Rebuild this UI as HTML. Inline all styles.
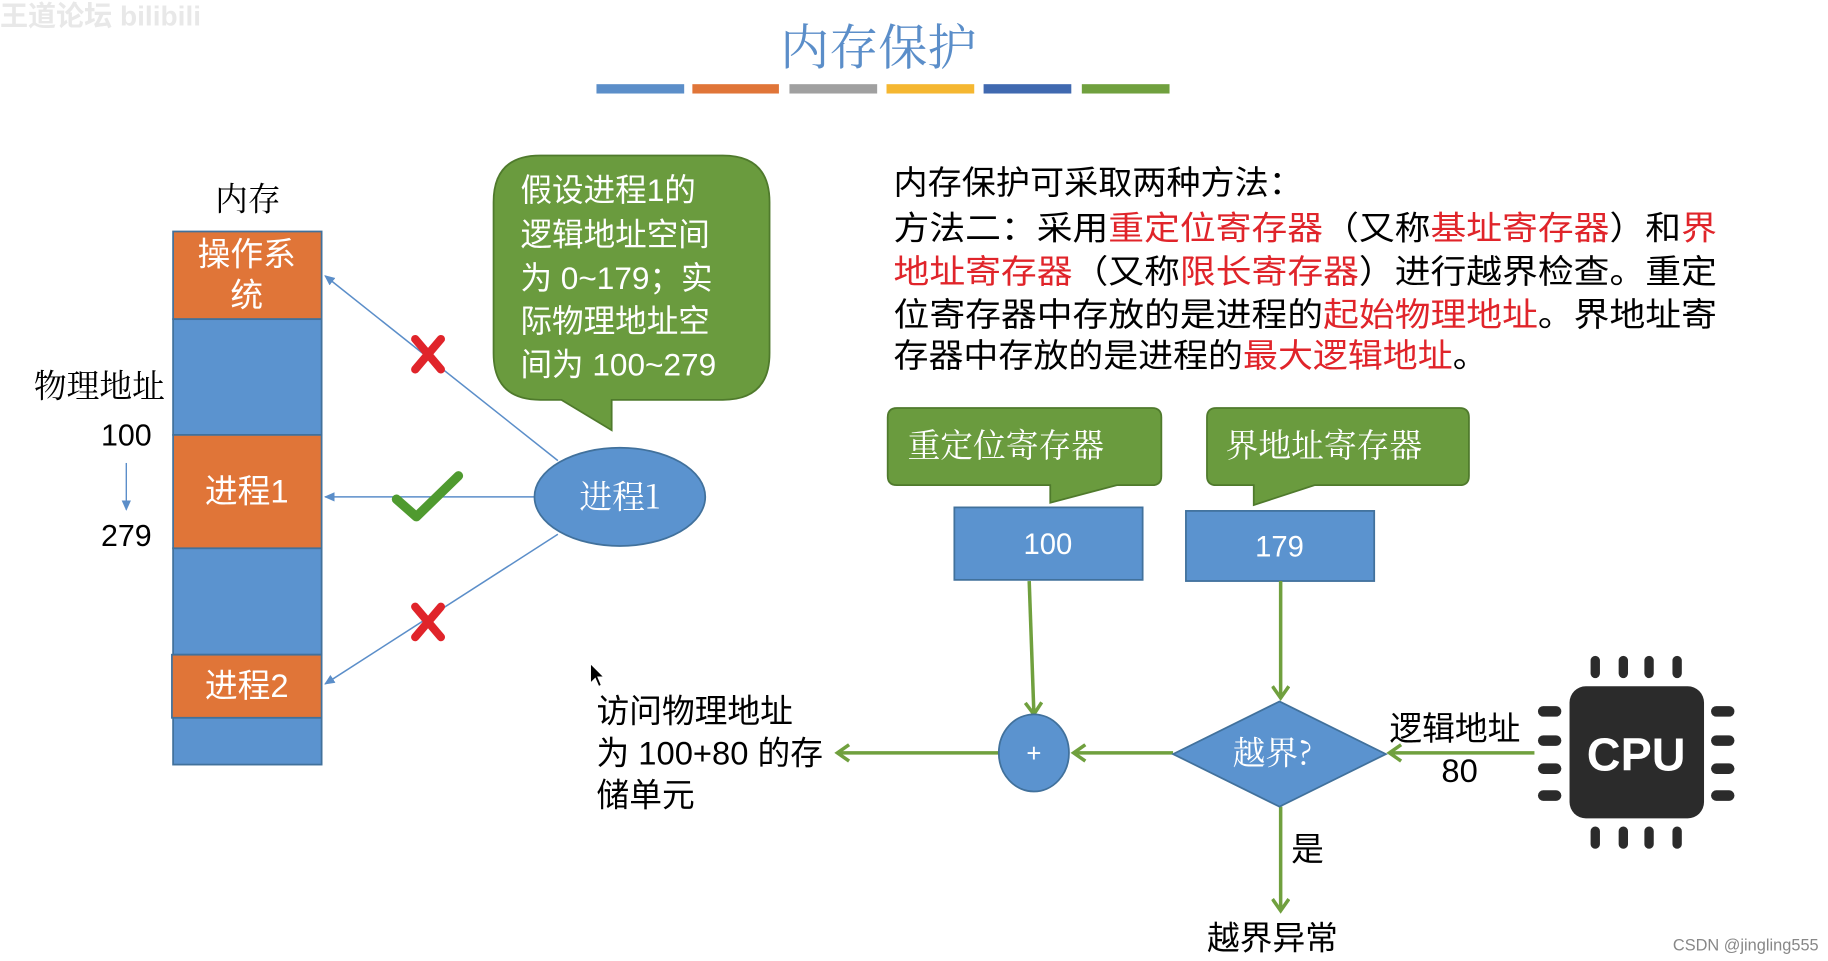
<!DOCTYPE html>
<html><head><meta charset="utf-8"><style>
html,body{margin:0;padding:0;background:#fff;overflow:hidden}
svg{display:block}
text{font-family:"Liberation Sans","Noto Sans CJK SC",sans-serif}
.cj{font-family:"Noto Serif CJK SC","Noto Sans CJK SC",serif}
</style></head><body>
<svg width="1828" height="961" viewBox="0 0 1563 822" preserveAspectRatio="none" xmlns="http://www.w3.org/2000/svg">
<defs>
<marker id="ab" markerWidth="10" markerHeight="10" refX="8" refY="5" orient="auto" markerUnits="userSpaceOnUse"><path d="M0,1 L9,5 L0,9 z" fill="#5b8ec9"/></marker>
<marker id="ag" markerWidth="16" markerHeight="16" refX="10" refY="8" orient="auto" markerUnits="userSpaceOnUse"><path d="M1,1 L11,8 L1,15" fill="none" stroke="#70a03e" stroke-width="3"/></marker>
</defs>
<rect width="1563" height="822" fill="#fff"/>
<text x="0" y="22" font-size="24" fill="#e8e8e8" font-weight="bold">王道论坛 bilibili</text>
<!-- title -->
<text x="751" y="55" font-size="42" fill="#5b8ec9" text-anchor="middle" class="cj">内存保护</text>
<rect x="510" y="72" width="75" height="8" fill="#5b8ec9"/>
<rect x="592" y="72" width="74" height="8" fill="#e07538"/>
<rect x="675" y="72" width="75" height="8" fill="#a0a0a0"/>
<rect x="758" y="72" width="75" height="8" fill="#f5b731"/>
<rect x="841" y="72" width="75" height="8" fill="#4069b0"/>
<rect x="925" y="72" width="75" height="8" fill="#70a03e"/>
<!-- memory -->
<text x="212" y="180" font-size="28" text-anchor="middle" class="cj">内存</text>
<g stroke="#41719c" stroke-width="1.5">
<rect x="148" y="198" width="127" height="75" fill="#e07538"/>
<rect x="148" y="273" width="127" height="99" fill="#5b93cf"/>
<rect x="148" y="372" width="127" height="97" fill="#e07538"/>
<rect x="148" y="469" width="127" height="91" fill="#5b93cf"/>
<rect x="147" y="560" width="128" height="54" fill="#e07538"/>
<rect x="148" y="614" width="127" height="40" fill="#5b93cf"/>
</g>
<g fill="#fff" font-size="28" text-anchor="middle" class="cj">
<text x="211" y="227">操作系</text>
<text x="211" y="262">统</text>
<text x="211" y="430">进程1</text>
<text x="211" y="596">进程2</text>
</g>
<text x="85" y="340" font-size="28" text-anchor="middle" class="cj">物理地址</text>
<text x="108" y="381" font-size="26" text-anchor="middle">100</text>
<line x1="108" y1="396" x2="108" y2="436" stroke="#5b8ec9" stroke-width="1.2" marker-end="url(#ab)"/>
<text x="108" y="467" font-size="26" text-anchor="middle">279</text>
<!-- bubble -->
<path d="M462,133 H618 Q658,133 658,173 V302 Q658,342 618,342 H523 V368 L480,342 H462 Q422,342 422,302 V173 Q422,133 462,133 z" fill="#6a9b3e" stroke="#4f7a2c" stroke-width="1.5"/>
<g fill="#fff" font-size="27" class="cj">
<text x="445" y="172">假设进程1的</text>
<text x="445" y="210">逻辑地址空间</text>
<text x="445" y="247">为 0~179；实</text>
<text x="445" y="284">际物理地址空</text>
<text x="445" y="321">间为 100~279</text>
</g>
<!-- process ellipse and lines -->
<line x1="477" y1="394" x2="278" y2="236" stroke="#5b8ec9" stroke-width="1.3" marker-end="url(#ab)"/>
<line x1="457" y1="425" x2="278" y2="425" stroke="#5b8ec9" stroke-width="1.3" marker-end="url(#ab)"/>
<line x1="477" y1="457" x2="278" y2="585" stroke="#5b8ec9" stroke-width="1.3" marker-end="url(#ab)"/>
<ellipse cx="530" cy="425" rx="73" ry="42" fill="#5b93cf" stroke="#41719c" stroke-width="1.5"/>
<text x="530" y="435" font-size="28" fill="#fff" text-anchor="middle" class="cj">进程1</text>
<g stroke="#e0242a" stroke-width="7" stroke-linecap="round">
<line x1="355" y1="290" x2="377" y2="316"/><line x1="377" y1="290" x2="355" y2="316"/>
<line x1="355" y1="519" x2="377" y2="545"/><line x1="377" y1="519" x2="355" y2="545"/>
</g>
<path d="M339,427 L356,442 L392,407" fill="none" stroke="#4f9a2f" stroke-width="8" stroke-linecap="round" stroke-linejoin="round"/>
<!-- right text -->
<g font-size="28" class="cj">
<text x="764" y="166" textLength="350" lengthAdjust="spacingAndGlyphs">内存保护可采取两种方法：</text>
<text x="764" y="205" textLength="704" lengthAdjust="spacingAndGlyphs">方法二：采用<tspan fill="#e0242a">重定位寄存器</tspan>（又称<tspan fill="#e0242a">基址寄存器</tspan>）和<tspan fill="#e0242a">界</tspan></text>
<text x="764" y="242" textLength="704" lengthAdjust="spacingAndGlyphs"><tspan fill="#e0242a">地址寄存器</tspan>（又称<tspan fill="#e0242a">限长寄存器</tspan>）进行越界检查。重定</text>
<text x="764" y="279" textLength="704" lengthAdjust="spacingAndGlyphs">位寄存器中存放的是进程的<tspan fill="#e0242a">起始物理地址</tspan>。界地址寄</text>
<text x="764" y="314" textLength="508" lengthAdjust="spacingAndGlyphs">存器中存放的是进程的<tspan fill="#e0242a">最大逻辑地址</tspan>。</text>
</g>
<!-- callouts -->
<path d="M767,349 H985 Q993,349 993,357 V407 Q993,415 985,415 H955 L898,430 V415 H767 Q759,415 759,407 V357 Q759,349 767,349 z" fill="#6a9b3e" stroke="#4f7a2c" stroke-width="1.5"/>
<text x="776" y="391" font-size="28" fill="#fff" class="cj">重定位寄存器</text>
<path d="M1040,349 H1248 Q1256,349 1256,357 V407 Q1256,415 1248,415 H1124 L1072,432 V415 H1040 Q1032,415 1032,407 V357 Q1032,349 1040,349 z" fill="#6a9b3e" stroke="#4f7a2c" stroke-width="1.5"/>
<text x="1048" y="391" font-size="28" fill="#fff" class="cj">界地址寄存器</text>
<rect x="816" y="434" width="161" height="62" fill="#5b93cf" stroke="#41719c" stroke-width="1.5"/>
<text x="896" y="474" font-size="25" fill="#fff" text-anchor="middle">100</text>
<rect x="1014" y="437" width="161" height="60" fill="#5b93cf" stroke="#41719c" stroke-width="1.5"/>
<text x="1094" y="476" font-size="25" fill="#fff" text-anchor="middle">179</text>
<!-- arrows -->
<g stroke="#70a03e" stroke-width="3" fill="none" marker-end="url(#ag)">
<line x1="880" y1="497" x2="884" y2="610"/>
<line x1="1095" y1="497" x2="1095" y2="596"/>
<line x1="1312" y1="644" x2="1189" y2="644"/>
<line x1="1003" y1="644" x2="919" y2="644"/>
<line x1="854" y1="644" x2="717" y2="644"/>
<line x1="1095" y1="690" x2="1095" y2="778"/>
</g>
<ellipse cx="884" cy="644" rx="30" ry="33" fill="#5b93cf" stroke="#41719c" stroke-width="1.5"/>
<text x="884" y="652" font-size="22" fill="#fff" text-anchor="middle">+</text>
<path d="M1094,600 L1185,645 L1094,690 L1003,645 z" fill="#5b93cf" stroke="#41719c" stroke-width="1.5"/>
<text x="1088" y="654" font-size="28" fill="#fff" text-anchor="middle" class="cj">越界?</text>
<g font-size="28" class="cj">
<text x="1188" y="633">逻辑地址</text>
<text x="1248" y="669" text-anchor="middle" font-family="Liberation Sans">80</text>
<text x="1104" y="736">是</text>
<text x="1032" y="812">越界异常</text>
<text x="510" y="618">访问物理地址</text>
<text x="510" y="654">为 100+80 的存</text>
<text x="510" y="690">储单元</text>
</g>
<path d="M505,568 L505,584 L509,580 L512,587 L514,586 L511,579 L516,579 z" fill="#000" stroke="#fff" stroke-width="0.6"/>
<!-- CPU -->
<g fill="#2b2b2b">
<rect x="1342" y="587" width="115" height="113" rx="14"/>
<rect x="1360" y="561" width="8" height="19" rx="4"/><rect x="1384" y="561" width="8" height="19" rx="4"/><rect x="1406" y="561" width="8" height="19" rx="4"/><rect x="1430" y="561" width="8" height="19" rx="4"/>
<rect x="1360" y="707" width="8" height="19" rx="4"/><rect x="1384" y="707" width="8" height="19" rx="4"/><rect x="1406" y="707" width="8" height="19" rx="4"/><rect x="1430" y="707" width="8" height="19" rx="4"/>
<rect x="1315" y="604" width="20" height="9" rx="4.5"/><rect x="1315" y="629" width="20" height="9" rx="4.5"/><rect x="1315" y="653" width="20" height="9" rx="4.5"/><rect x="1315" y="676" width="20" height="9" rx="4.5"/>
<rect x="1463" y="604" width="20" height="9" rx="4.5"/><rect x="1463" y="629" width="20" height="9" rx="4.5"/><rect x="1463" y="653" width="20" height="9" rx="4.5"/><rect x="1463" y="676" width="20" height="9" rx="4.5"/>
</g>
<text x="1399" y="659" font-size="40" font-weight="bold" fill="#fff" text-anchor="middle">CPU</text>
<text x="1555" y="813" font-size="14" fill="#888" text-anchor="end">CSDN @jingling555</text>
</svg>
</body></html>
